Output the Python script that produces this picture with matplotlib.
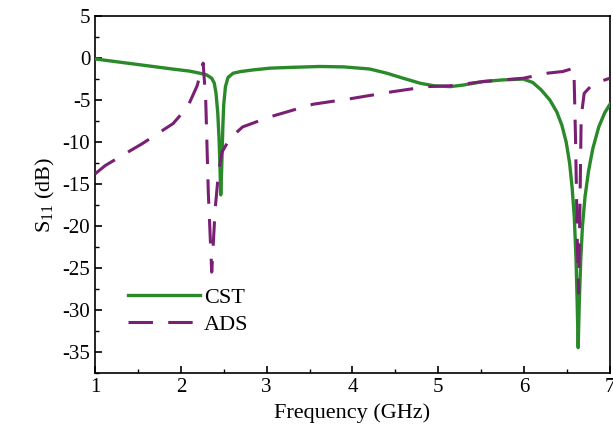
import matplotlib
matplotlib.use("Agg")
import matplotlib.pyplot as plt
from matplotlib.ticker import MultipleLocator

plt.rcParams['font.family'] = ['Liberation Serif', 'DejaVu Serif']
plt.rcParams['mathtext.fontset'] = 'custom'
plt.rcParams['mathtext.rm'] = 'Liberation Serif'
plt.rcParams['axes.unicode_minus'] = False

# CST simulated reflection coefficient
cst_freq = [1.0, 1.3, 1.6, 1.9, 2.1, 2.22, 2.30, 2.36, 2.39, 2.41, 2.43, 2.445,
            2.455, 2.465, 2.475, 2.49, 2.50, 2.52, 2.55, 2.61, 2.7, 2.85, 3.04,
            3.3, 3.62, 3.9, 4.2, 4.4, 4.59, 4.79, 4.95, 5.14, 5.3, 5.52, 5.75,
            5.99, 6.1, 6.2, 6.3, 6.38, 6.44, 6.49, 6.53, 6.56, 6.585, 6.605,
            6.618, 6.63, 6.643, 6.66, 6.68, 6.71, 6.75, 6.8, 6.87, 6.94, 7.0]
cst_s11 = [-0.1, -0.5, -0.9, -1.3, -1.55, -1.8, -2.0, -2.4, -3.0, -4.2, -6.5,
           -9.5, -12.5, -16.3, -13.5, -8.0, -5.5, -3.4, -2.3, -1.8, -1.6, -1.4,
           -1.2, -1.1, -1.0, -1.05, -1.3, -1.8, -2.4, -3.0, -3.3, -3.4, -3.2,
           -2.8, -2.6, -2.5, -2.9, -3.8, -5.0, -6.4, -8.0, -10.0, -12.5, -15.5,
           -19.0, -24.0, -29.0, -34.5, -29.0, -24.0, -20.0, -16.5, -13.5,
           -10.8, -8.2, -6.5, -5.5]

# ADS circuit-model reflection coefficient
ads_freq = [1.0, 1.12, 1.35, 1.55, 1.73, 1.91, 2.08, 2.19, 2.26, 2.29, 2.32,
            2.36, 2.40, 2.44, 2.48, 2.57, 2.72, 3.04, 3.54, 4.0, 4.47, 4.87,
            5.14, 5.52, 5.99, 6.27, 6.45, 6.58, 6.60, 6.62, 6.635, 6.65, 6.665,
            6.7, 6.8, 6.97, 7.0]
ads_s11 = [-13.8, -12.8, -11.4, -10.2, -9.0, -7.8, -5.8, -3.3, -0.6, -5.0,
           -16.0, -25.5, -18.0, -13.5, -11.2, -9.6, -8.2, -7.0, -5.5, -4.8,
           -4.0, -3.4, -3.3, -2.8, -2.4, -1.8, -1.6, -1.2, -10.0, -22.0, -28.0,
           -18.0, -7.0, -4.2, -3.1, -2.5, -2.4]

x_ticks = [1, 2, 3, 4, 5, 6, 7]
y_ticks = [5, 0, -5, -10, -15, -20, -25, -30, -35]

fig = plt.figure(figsize=(6.13, 4.36), dpi=100)
ax = fig.add_axes([0.155, 0.145, 0.840, 0.818])

ax.plot(cst_freq, cst_s11, color='#2a8a2a', lw=2.4, label='CST', zorder=3)
ax.plot(ads_freq, ads_s11, color='#7a1f74', lw=2.2, ls=(0, (8, 5)),
        label='ADS', zorder=4)

ax.set_xlim(1, 7)
ax.set_ylim(-37.5, 5)
ax.set_xticks(x_ticks)
ax.set_yticks(y_ticks)
ax.xaxis.set_minor_locator(MultipleLocator(0.5))
ax.yaxis.set_minor_locator(MultipleLocator(2.5))
ax.tick_params(which='both', direction='in', labelsize=15, top=False, right=False)
ax.tick_params(which='major', length=5, width=1.2)
ax.tick_params(which='minor', length=3, width=1.0)
for s in ax.spines.values():
    s.set_linewidth(1.2)

ax.set_xlabel('Frequency (GHz)', fontsize=16, labelpad=5)
ax.set_ylabel(r'S$_{11}$ (dB)', fontsize=16, labelpad=4)

ax.legend(loc='lower left', bbox_to_anchor=(0.026, 0.05), frameon=False,
          fontsize=16, handlelength=3.2, handletextpad=0.2, labelspacing=0.3)

fig.savefig('out.png', dpi=100)
